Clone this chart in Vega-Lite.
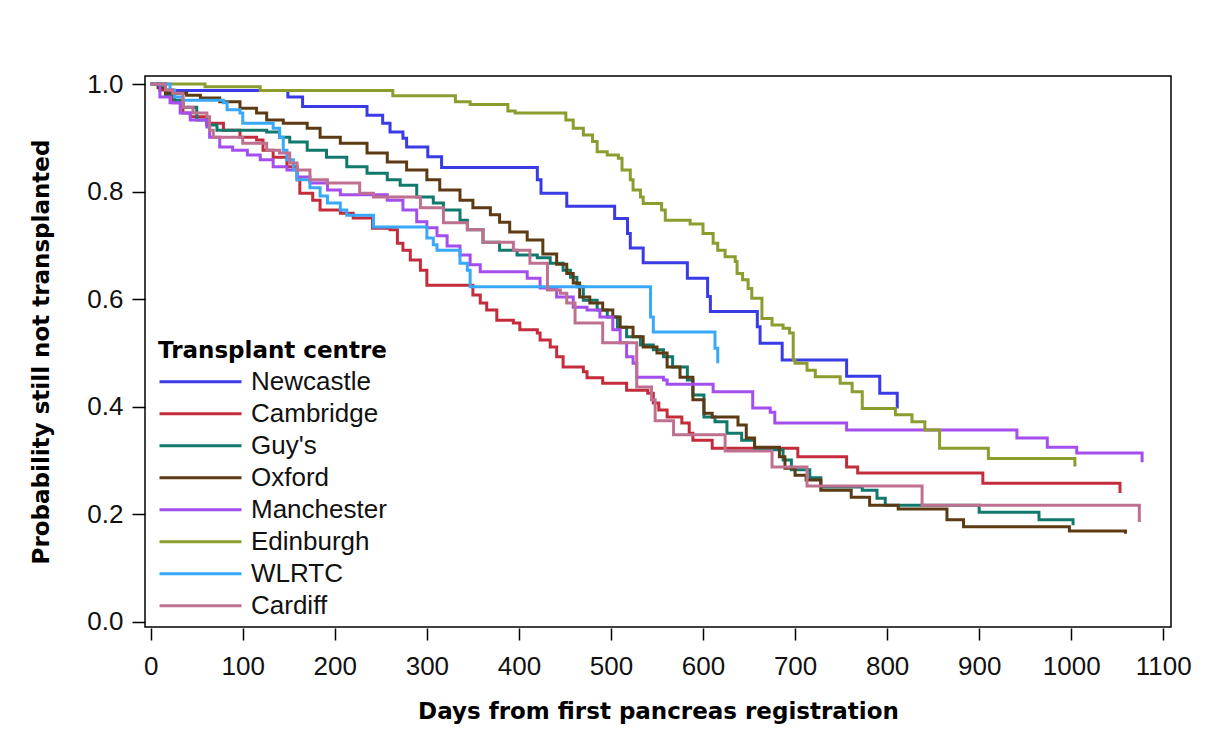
{
"$schema": "https://vega.github.io/schema/vega-lite/v6.json",
"width": 1026, "height": 551,
"autosize": "none",
"padding": {"left": 145, "top": 76, "right": 34, "bottom": 115},
"background": "white",
"config": {"view": {"stroke": "#000", "strokeWidth": 1.5}, "font": "Liberation Sans"},
"data": {"values": [
{"centre":"Newcastle","day":0,"prob":1},{"centre":"Newcastle","day":16,"prob":0.988},{"centre":"Newcastle","day":149,"prob":0.976},{"centre":"Newcastle","day":165,"prob":0.958},{"centre":"Newcastle","day":235,"prob":0.942},{"centre":"Newcastle","day":252,"prob":0.927},{"centre":"Newcastle","day":260,"prob":0.911},{"centre":"Newcastle","day":274,"prob":0.899},{"centre":"Newcastle","day":278,"prob":0.883},{"centre":"Newcastle","day":301,"prob":0.865},{"centre":"Newcastle","day":316,"prob":0.845},{"centre":"Newcastle","day":420,"prob":0.822},{"centre":"Newcastle","day":424,"prob":0.797},{"centre":"Newcastle","day":452,"prob":0.773},{"centre":"Newcastle","day":504,"prob":0.750},{"centre":"Newcastle","day":518,"prob":0.722},{"centre":"Newcastle","day":521,"prob":0.695},{"centre":"Newcastle","day":535,"prob":0.668},{"centre":"Newcastle","day":583,"prob":0.639},{"centre":"Newcastle","day":605,"prob":0.605},{"centre":"Newcastle","day":608,"prob":0.577},{"centre":"Newcastle","day":659,"prob":0.549},{"centre":"Newcastle","day":662,"prob":0.518},{"centre":"Newcastle","day":686,"prob":0.487},{"centre":"Newcastle","day":756,"prob":0.457},{"centre":"Newcastle","day":792,"prob":0.425},{"centre":"Newcastle","day":811,"prob":0.397},
{"centre":"Cambridge","day":0,"prob":1},{"centre":"Cambridge","day":10,"prob":0.989},{"centre":"Cambridge","day":24,"prob":0.965},{"centre":"Cambridge","day":35,"prob":0.946},{"centre":"Cambridge","day":43,"prob":0.939},{"centre":"Cambridge","day":61,"prob":0.927},{"centre":"Cambridge","day":79,"prob":0.914},{"centre":"Cambridge","day":97,"prob":0.901},{"centre":"Cambridge","day":115,"prob":0.896},{"centre":"Cambridge","day":122,"prob":0.877},{"centre":"Cambridge","day":133,"prob":0.864},{"centre":"Cambridge","day":148,"prob":0.846},{"centre":"Cambridge","day":159,"prob":0.822},{"centre":"Cambridge","day":162,"prob":0.797},{"centre":"Cambridge","day":176,"prob":0.784},{"centre":"Cambridge","day":184,"prob":0.766},{"centre":"Cambridge","day":206,"prob":0.760},{"centre":"Cambridge","day":220,"prob":0.751},{"centre":"Cambridge","day":241,"prob":0.732},{"centre":"Cambridge","day":260,"prob":0.729},{"centre":"Cambridge","day":268,"prob":0.704},{"centre":"Cambridge","day":274,"prob":0.691},{"centre":"Cambridge","day":282,"prob":0.673},{"centre":"Cambridge","day":293,"prob":0.654},{"centre":"Cambridge","day":300,"prob":0.626},{"centre":"Cambridge","day":350,"prob":0.608},{"centre":"Cambridge","day":358,"prob":0.593},{"centre":"Cambridge","day":365,"prob":0.580},{"centre":"Cambridge","day":376,"prob":0.561},{"centre":"Cambridge","day":394,"prob":0.556},{"centre":"Cambridge","day":401,"prob":0.543},{"centre":"Cambridge","day":420,"prob":0.537},{"centre":"Cambridge","day":423,"prob":0.524},{"centre":"Cambridge","day":434,"prob":0.511},{"centre":"Cambridge","day":441,"prob":0.493},{"centre":"Cambridge","day":448,"prob":0.474},{"centre":"Cambridge","day":470,"prob":0.465},{"centre":"Cambridge","day":474,"prob":0.454},{"centre":"Cambridge","day":491,"prob":0.444},{"centre":"Cambridge","day":517,"prob":0.431},{"centre":"Cambridge","day":540,"prob":0.425},{"centre":"Cambridge","day":546,"prob":0.407},{"centre":"Cambridge","day":552,"prob":0.394},{"centre":"Cambridge","day":561,"prob":0.381},{"centre":"Cambridge","day":577,"prob":0.370},{"centre":"Cambridge","day":585,"prob":0.351},{"centre":"Cambridge","day":589,"prob":0.338},{"centre":"Cambridge","day":610,"prob":0.323},{"centre":"Cambridge","day":703,"prob":0.307},{"centre":"Cambridge","day":756,"prob":0.288},{"centre":"Cambridge","day":768,"prob":0.277},{"centre":"Cambridge","day":904,"prob":0.258},{"centre":"Cambridge","day":1053,"prob":0.240},
{"centre":"Guy's","day":0,"prob":1},{"centre":"Guy's","day":16,"prob":0.980},{"centre":"Guy's","day":26,"prob":0.970},{"centre":"Guy's","day":35,"prob":0.957},{"centre":"Guy's","day":50,"prob":0.933},{"centre":"Guy's","day":61,"prob":0.924},{"centre":"Guy's","day":72,"prob":0.914},{"centre":"Guy's","day":126,"prob":0.911},{"centre":"Guy's","day":140,"prob":0.901},{"centre":"Guy's","day":151,"prob":0.892},{"centre":"Guy's","day":170,"prob":0.877},{"centre":"Guy's","day":191,"prob":0.864},{"centre":"Guy's","day":213,"prob":0.846},{"centre":"Guy's","day":235,"prob":0.834},{"centre":"Guy's","day":257,"prob":0.822},{"centre":"Guy's","day":271,"prob":0.812},{"centre":"Guy's","day":289,"prob":0.790},{"centre":"Guy's","day":307,"prob":0.779},{"centre":"Guy's","day":318,"prob":0.766},{"centre":"Guy's","day":336,"prob":0.747},{"centre":"Guy's","day":344,"prob":0.729},{"centre":"Guy's","day":361,"prob":0.706},{"centre":"Guy's","day":379,"prob":0.691},{"centre":"Guy's","day":398,"prob":0.682},{"centre":"Guy's","day":420,"prob":0.677},{"centre":"Guy's","day":434,"prob":0.667},{"centre":"Guy's","day":448,"prob":0.654},{"centre":"Guy's","day":456,"prob":0.641},{"centre":"Guy's","day":463,"prob":0.623},{"centre":"Guy's","day":470,"prob":0.598},{"centre":"Guy's","day":485,"prob":0.580},{"centre":"Guy's","day":496,"prob":0.567},{"centre":"Guy's","day":507,"prob":0.548},{"centre":"Guy's","day":517,"prob":0.530},{"centre":"Guy's","day":532,"prob":0.515},{"centre":"Guy's","day":546,"prob":0.506},{"centre":"Guy's","day":557,"prob":0.493},{"centre":"Guy's","day":567,"prob":0.474},{"centre":"Guy's","day":583,"prob":0.450},{"centre":"Guy's","day":589,"prob":0.422},{"centre":"Guy's","day":601,"prob":0.381},{"centre":"Guy's","day":613,"prob":0.372},{"centre":"Guy's","day":626,"prob":0.351},{"centre":"Guy's","day":642,"prob":0.338},{"centre":"Guy's","day":656,"prob":0.320},{"centre":"Guy's","day":687,"prob":0.301},{"centre":"Guy's","day":696,"prob":0.283},{"centre":"Guy's","day":716,"prob":0.268},{"centre":"Guy's","day":728,"prob":0.251},{"centre":"Guy's","day":773,"prob":0.245},{"centre":"Guy's","day":789,"prob":0.230},{"centre":"Guy's","day":798,"prob":0.217},{"centre":"Guy's","day":900,"prob":0.204},{"centre":"Guy's","day":965,"prob":0.190},{"centre":"Guy's","day":1002,"prob":0.180},
{"centre":"Oxford","day":0,"prob":1},{"centre":"Oxford","day":8,"prob":0.993},{"centre":"Oxford","day":16,"prob":0.983},{"centre":"Oxford","day":39,"prob":0.979},{"centre":"Oxford","day":54,"prob":0.974},{"centre":"Oxford","day":75,"prob":0.967},{"centre":"Oxford","day":97,"prob":0.955},{"centre":"Oxford","day":115,"prob":0.946},{"centre":"Oxford","day":126,"prob":0.933},{"centre":"Oxford","day":144,"prob":0.927},{"centre":"Oxford","day":170,"prob":0.918},{"centre":"Oxford","day":184,"prob":0.901},{"centre":"Oxford","day":206,"prob":0.890},{"centre":"Oxford","day":235,"prob":0.872},{"centre":"Oxford","day":257,"prob":0.855},{"centre":"Oxford","day":278,"prob":0.840},{"centre":"Oxford","day":300,"prob":0.822},{"centre":"Oxford","day":314,"prob":0.803},{"centre":"Oxford","day":336,"prob":0.784},{"centre":"Oxford","day":350,"prob":0.770},{"centre":"Oxford","day":369,"prob":0.757},{"centre":"Oxford","day":379,"prob":0.743},{"centre":"Oxford","day":390,"prob":0.725},{"centre":"Oxford","day":409,"prob":0.710},{"centre":"Oxford","day":426,"prob":0.684},{"centre":"Oxford","day":441,"prob":0.665},{"centre":"Oxford","day":452,"prob":0.648},{"centre":"Oxford","day":459,"prob":0.630},{"centre":"Oxford","day":466,"prob":0.604},{"centre":"Oxford","day":477,"prob":0.593},{"centre":"Oxford","day":491,"prob":0.580},{"centre":"Oxford","day":502,"prob":0.567},{"centre":"Oxford","day":510,"prob":0.548},{"centre":"Oxford","day":524,"prob":0.530},{"centre":"Oxford","day":535,"prob":0.511},{"centre":"Oxford","day":550,"prob":0.500},{"centre":"Oxford","day":561,"prob":0.474},{"centre":"Oxford","day":575,"prob":0.455},{"centre":"Oxford","day":589,"prob":0.413},{"centre":"Oxford","day":601,"prob":0.388},{"centre":"Oxford","day":610,"prob":0.381},{"centre":"Oxford","day":638,"prob":0.366},{"centre":"Oxford","day":647,"prob":0.342},{"centre":"Oxford","day":656,"prob":0.325},{"centre":"Oxford","day":683,"prob":0.307},{"centre":"Oxford","day":689,"prob":0.286},{"centre":"Oxford","day":700,"prob":0.273},{"centre":"Oxford","day":712,"prob":0.264},{"centre":"Oxford","day":728,"prob":0.245},{"centre":"Oxford","day":761,"prob":0.232},{"centre":"Oxford","day":781,"prob":0.217},{"centre":"Oxford","day":812,"prob":0.210},{"centre":"Oxford","day":865,"prob":0.190},{"centre":"Oxford","day":883,"prob":0.177},{"centre":"Oxford","day":998,"prob":0.169},{"centre":"Oxford","day":1059,"prob":0.164},
{"centre":"Manchester","day":0,"prob":1},{"centre":"Manchester","day":10,"prob":0.976},{"centre":"Manchester","day":21,"prob":0.965},{"centre":"Manchester","day":32,"prob":0.946},{"centre":"Manchester","day":43,"prob":0.933},{"centre":"Manchester","day":61,"prob":0.920},{"centre":"Manchester","day":64,"prob":0.901},{"centre":"Manchester","day":75,"prob":0.883},{"centre":"Manchester","day":89,"prob":0.877},{"centre":"Manchester","day":105,"prob":0.868},{"centre":"Manchester","day":119,"prob":0.859},{"centre":"Manchester","day":133,"prob":0.846},{"centre":"Manchester","day":148,"prob":0.840},{"centre":"Manchester","day":159,"prob":0.827},{"centre":"Manchester","day":173,"prob":0.816},{"centre":"Manchester","day":192,"prob":0.803},{"centre":"Manchester","day":206,"prob":0.794},{"centre":"Manchester","day":257,"prob":0.784},{"centre":"Manchester","day":274,"prob":0.766},{"centre":"Manchester","day":289,"prob":0.744},{"centre":"Manchester","day":300,"prob":0.733},{"centre":"Manchester","day":311,"prob":0.718},{"centre":"Manchester","day":322,"prob":0.699},{"centre":"Manchester","day":336,"prob":0.682},{"centre":"Manchester","day":347,"prob":0.664},{"centre":"Manchester","day":358,"prob":0.651},{"centre":"Manchester","day":409,"prob":0.639},{"centre":"Manchester","day":423,"prob":0.621},{"centre":"Manchester","day":441,"prob":0.604},{"centre":"Manchester","day":459,"prob":0.585},{"centre":"Manchester","day":474,"prob":0.580},{"centre":"Manchester","day":488,"prob":0.567},{"centre":"Manchester","day":502,"prob":0.543},{"centre":"Manchester","day":510,"prob":0.519},{"centre":"Manchester","day":517,"prob":0.493},{"centre":"Manchester","day":524,"prob":0.481},{"centre":"Manchester","day":528,"prob":0.455},{"centre":"Manchester","day":557,"prob":0.450},{"centre":"Manchester","day":561,"prob":0.442},{"centre":"Manchester","day":611,"prob":0.428},{"centre":"Manchester","day":654,"prob":0.398},{"centre":"Manchester","day":673,"prob":0.390},{"centre":"Manchester","day":678,"prob":0.370},{"centre":"Manchester","day":756,"prob":0.357},{"centre":"Manchester","day":941,"prob":0.342},{"centre":"Manchester","day":974,"prob":0.325},{"centre":"Manchester","day":1006,"prob":0.314},{"centre":"Manchester","day":1077,"prob":0.297},
{"centre":"Edinburgh","day":0,"prob":1},{"centre":"Edinburgh","day":59,"prob":0.995},{"centre":"Edinburgh","day":119,"prob":0.988},{"centre":"Edinburgh","day":263,"prob":0.978},{"centre":"Edinburgh","day":331,"prob":0.967},{"centre":"Edinburgh","day":347,"prob":0.962},{"centre":"Edinburgh","day":388,"prob":0.950},{"centre":"Edinburgh","day":396,"prob":0.946},{"centre":"Edinburgh","day":451,"prob":0.933},{"centre":"Edinburgh","day":459,"prob":0.918},{"centre":"Edinburgh","day":470,"prob":0.905},{"centre":"Edinburgh","day":480,"prob":0.893},{"centre":"Edinburgh","day":485,"prob":0.874},{"centre":"Edinburgh","day":496,"prob":0.868},{"centre":"Edinburgh","day":508,"prob":0.862},{"centre":"Edinburgh","day":512,"prob":0.840},{"centre":"Edinburgh","day":521,"prob":0.822},{"centre":"Edinburgh","day":524,"prob":0.803},{"centre":"Edinburgh","day":532,"prob":0.790},{"centre":"Edinburgh","day":535,"prob":0.778},{"centre":"Edinburgh","day":555,"prob":0.766},{"centre":"Edinburgh","day":559,"prob":0.747},{"centre":"Edinburgh","day":586,"prob":0.740},{"centre":"Edinburgh","day":600,"prob":0.722},{"centre":"Edinburgh","day":611,"prob":0.704},{"centre":"Edinburgh","day":616,"prob":0.691},{"centre":"Edinburgh","day":624,"prob":0.679},{"centre":"Edinburgh","day":635,"prob":0.670},{"centre":"Edinburgh","day":637,"prob":0.648},{"centre":"Edinburgh","day":643,"prob":0.636},{"centre":"Edinburgh","day":649,"prob":0.620},{"centre":"Edinburgh","day":653,"prob":0.602},{"centre":"Edinburgh","day":664,"prob":0.564},{"centre":"Edinburgh","day":675,"prob":0.552},{"centre":"Edinburgh","day":687,"prob":0.546},{"centre":"Edinburgh","day":694,"prob":0.537},{"centre":"Edinburgh","day":698,"prob":0.487},{"centre":"Edinburgh","day":700,"prob":0.481},{"centre":"Edinburgh","day":713,"prob":0.468},{"centre":"Edinburgh","day":722,"prob":0.456},{"centre":"Edinburgh","day":749,"prob":0.444},{"centre":"Edinburgh","day":762,"prob":0.428},{"centre":"Edinburgh","day":773,"prob":0.397},{"centre":"Edinburgh","day":809,"prob":0.385},{"centre":"Edinburgh","day":827,"prob":0.372},{"centre":"Edinburgh","day":841,"prob":0.357},{"centre":"Edinburgh","day":857,"prob":0.323},{"centre":"Edinburgh","day":910,"prob":0.304},{"centre":"Edinburgh","day":1004,"prob":0.289},
{"centre":"WLRTC","day":0,"prob":1},{"centre":"WLRTC","day":21,"prob":0.989},{"centre":"WLRTC","day":26,"prob":0.976},{"centre":"WLRTC","day":35,"prob":0.970},{"centre":"WLRTC","day":79,"prob":0.965},{"centre":"WLRTC","day":83,"prob":0.952},{"centre":"WLRTC","day":97,"prob":0.946},{"centre":"WLRTC","day":100,"prob":0.927},{"centre":"WLRTC","day":133,"prob":0.918},{"centre":"WLRTC","day":140,"prob":0.901},{"centre":"WLRTC","day":144,"prob":0.877},{"centre":"WLRTC","day":148,"prob":0.859},{"centre":"WLRTC","day":155,"prob":0.840},{"centre":"WLRTC","day":159,"prob":0.822},{"centre":"WLRTC","day":173,"prob":0.807},{"centre":"WLRTC","day":184,"prob":0.792},{"centre":"WLRTC","day":192,"prob":0.779},{"centre":"WLRTC","day":206,"prob":0.766},{"centre":"WLRTC","day":213,"prob":0.756},{"centre":"WLRTC","day":242,"prob":0.734},{"centre":"WLRTC","day":300,"prob":0.714},{"centre":"WLRTC","day":307,"prob":0.701},{"centre":"WLRTC","day":311,"prob":0.691},{"centre":"WLRTC","day":336,"prob":0.667},{"centre":"WLRTC","day":344,"prob":0.654},{"centre":"WLRTC","day":347,"prob":0.623},{"centre":"WLRTC","day":543,"prob":0.567},{"centre":"WLRTC","day":546,"prob":0.539},{"centre":"WLRTC","day":613,"prob":0.509},{"centre":"WLRTC","day":616,"prob":0.481},
{"centre":"Cardiff","day":0,"prob":1},{"centre":"Cardiff","day":16,"prob":0.989},{"centre":"Cardiff","day":24,"prob":0.983},{"centre":"Cardiff","day":35,"prob":0.957},{"centre":"Cardiff","day":46,"prob":0.946},{"centre":"Cardiff","day":61,"prob":0.939},{"centre":"Cardiff","day":64,"prob":0.914},{"centre":"Cardiff","day":68,"prob":0.901},{"centre":"Cardiff","day":100,"prob":0.890},{"centre":"Cardiff","day":126,"prob":0.877},{"centre":"Cardiff","day":140,"prob":0.872},{"centre":"Cardiff","day":151,"prob":0.853},{"centre":"Cardiff","day":159,"prob":0.840},{"centre":"Cardiff","day":173,"prob":0.822},{"centre":"Cardiff","day":192,"prob":0.816},{"centre":"Cardiff","day":227,"prob":0.797},{"centre":"Cardiff","day":242,"prob":0.790},{"centre":"Cardiff","day":293,"prob":0.770},{"centre":"Cardiff","day":318,"prob":0.742},{"centre":"Cardiff","day":344,"prob":0.729},{"centre":"Cardiff","day":361,"prob":0.706},{"centre":"Cardiff","day":394,"prob":0.691},{"centre":"Cardiff","day":412,"prob":0.667},{"centre":"Cardiff","day":431,"prob":0.617},{"centre":"Cardiff","day":445,"prob":0.611},{"centre":"Cardiff","day":452,"prob":0.593},{"centre":"Cardiff","day":461,"prob":0.556},{"centre":"Cardiff","day":491,"prob":0.519},{"centre":"Cardiff","day":528,"prob":0.437},{"centre":"Cardiff","day":544,"prob":0.413},{"centre":"Cardiff","day":548,"prob":0.374},{"centre":"Cardiff","day":568,"prob":0.348},{"centre":"Cardiff","day":624,"prob":0.318},{"centre":"Cardiff","day":675,"prob":0.288},{"centre":"Cardiff","day":713,"prob":0.253},{"centre":"Cardiff","day":838,"prob":0.217},{"centre":"Cardiff","day":1074,"prob":0.186}
]},
"mark": {"type": "line", "interpolate": "step-after", "strokeWidth": 3},
"encoding": {
  "x": {"field": "day", "type": "quantitative",
    "scale": {"domain": [-6.2, 1108.4], "nice": false, "zero": false},
    "axis": {"values": [0,100,200,300,400,500,600,700,800,900,1000,1100], "format": "d", "title": "Days from first pancreas registration",
      "grid": false, "domain": false, "tickColor": "#000", "tickWidth": 1.5, "tickSize": 12, "offset": 1,
      "labelFont": "Liberation Sans", "labelFontSize": 26, "labelColor": "#111", "labelPadding": 13, "labelFlush": false, "labelOverlap": false,
      "titleFont": "DejaVu Sans", "titleFontSize": 23, "titleFontWeight": "bold", "titleColor": "#000", "titlePadding": 21}},
  "y": {"field": "prob", "type": "quantitative",
    "scale": {"domain": [-0.0093, 1.0149], "nice": false, "zero": false},
    "axis": {"values": [0,0.2,0.4,0.6,0.8,1], "format": ".1f", "title": "Probability still not transplanted",
      "grid": false, "domain": false, "tickColor": "#000", "tickWidth": 1.5, "tickSize": 13,
      "labelFont": "Liberation Sans", "labelFontSize": 26, "labelColor": "#111", "labelPadding": 9, "labelFlush": false, "labelOverlap": false,
      "titleFont": "DejaVu Sans", "titleFontSize": 23, "titleFontWeight": "bold", "titleColor": "#000", "titlePadding": 33}},
  "color": {"field": "centre", "type": "nominal",
    "scale": {"domain": ["Newcastle","Cambridge","Guy's","Oxford","Manchester","Edinburgh","WLRTC","Cardiff"],
              "range": ["#3A3AE6","#C42C3C","#11786C","#5C3A13","#A54EEE","#8C9C2E","#38A8F8","#BF7090"]},
    "legend": {"title": "Transplant centre", "orient": "none", "legendX": 13, "legendY": 264, "padding": 0,
      "symbolType": "stroke", "symbolSize": 6724, "symbolStrokeWidth": 3, "clipHeight": 31.67, "rowPadding": 0,
      "labelOffset": 8, "labelFont": "Liberation Sans", "labelFontSize": 26, "labelColor": "#111", "labelLimit": 300,
      "titleFont": "DejaVu Sans", "titleFontSize": 23, "titleFontWeight": "bold", "titleColor": "#000", "titlePadding": 3, "titleLimit": 400, "titleAnchor": "start"}}
}
}
